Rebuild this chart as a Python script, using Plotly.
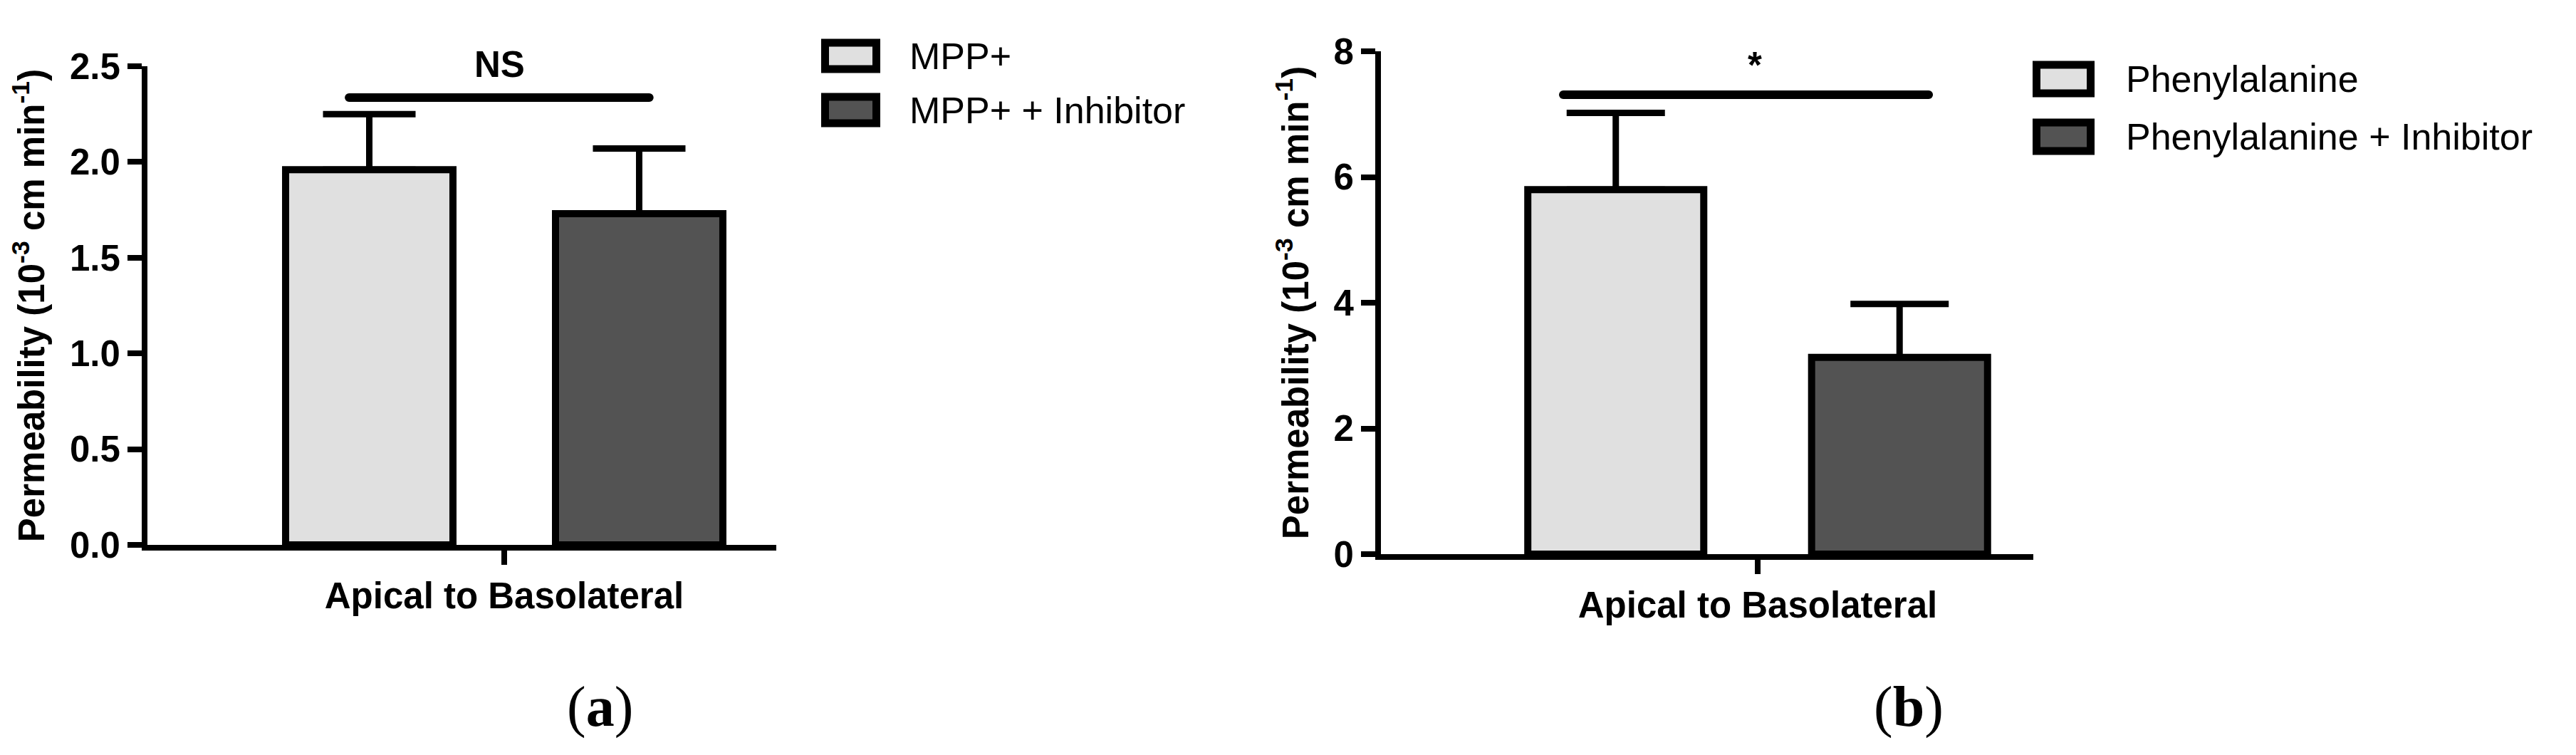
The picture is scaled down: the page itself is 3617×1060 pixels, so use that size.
import plotly.graph_objects as go

W, H = 3617, 1060
OFF = 8  # default body margin of the html page

# data
category = ["Apical to Basolateral"]

mpp_names = ["MPP+", "MPP+ + Inhibitor"]
mpp_means = [1.96, 1.73]
mpp_errors = [0.29, 0.34]
mpp_sig_text = "NS"
mpp_sig_level = 2.336

phe_names = ["Phenylalanine", "Phenylalanine + Inhibitor"]
phe_means = [5.80, 3.13]
phe_errors = [1.22, 0.85]
phe_sig_text = "*"
phe_sig_level = 7.31

fills = ["#e0e0e0", "#535353"]
y_title = "Permeability (10<sup>-3</sup> cm min<sup>-1</sup>)"

SANS = "Liberation Sans, Arial, sans-serif"
SERIF = "Liberation Serif, Times New Roman, serif"


def px(x):
    return (x - OFF) / W


def py(y):
    return 1 - (y - OFF) / H


fig = go.Figure()

# panel (a)
for i in range(2):
    fig.add_trace(go.Bar(
        x=category, y=[mpp_means[i]], name=mpp_names[i],
        marker=dict(color=fills[i], line=dict(color="black", width=10)),
        error_y=dict(type="data", array=[mpp_errors[i]], arrayminus=[0], symmetric=False,
                     color="black", thickness=9, width=65),
        xaxis="x", yaxis="y", showlegend=False,
    ))

# panel (b)
for i in range(2):
    fig.add_trace(go.Bar(
        x=category, y=[phe_means[i]], name=phe_names[i],
        marker=dict(color=fills[i], line=dict(color="black", width=10)),
        error_y=dict(type="data", array=[phe_errors[i]], arrayminus=[0], symmetric=False,
                     color="black", thickness=9, width=69),
        xaxis="x2", yaxis="y2", showlegend=False,
    ))

axis_common = dict(
    automargin=False,
    showline=True, linewidth=8, linecolor="black",
    ticks="outside", ticklen=20, tickwidth=8, tickcolor="black",
    showgrid=False, zeroline=False,
    tickfont=dict(family=SANS, size=51, color="black", weight="bold"),
)
ytitle = dict(text=y_title, font=dict(family=SANS, size=51, color="black", weight="bold"), standoff=22)

fig.update_layout(
    width=W, height=H,
    margin=dict(l=0, r=0, t=0, b=0),
    paper_bgcolor="white", plot_bgcolor="white",
    barmode="group", bargap=0.2, bargroupgap=0.38,
    xaxis=dict(domain=[px(207), px(1090)], range=[-0.5288, 0.4032], type="category",
               anchor="y", **axis_common),
    yaxis=dict(domain=[py(765), py(93)], range=[0, 2.5], dtick=0.5, tickformat=".1f",
               anchor="x", title=ytitle, **axis_common),
    xaxis2=dict(domain=[px(1939), px(2855)], range=[-0.531, 0.3885], type="category",
                anchor="y2", **axis_common),
    yaxis2=dict(domain=[py(778), py(72)], range=[0, 8], dtick=2,
                anchor="x2", title=ytitle, **axis_common),
)

# significance brackets (with rounded ends) and labels
brackets = [("x", "y", -0.23, 0.215, mpp_sig_level), ("x2", "y2", -0.274, 0.241, phe_sig_level)]
for xr, yr, xa, xb, lvl in brackets:
    fig.add_shape(type="line", xref=xr, yref=yr, x0=xa, x1=xb, y0=lvl, y1=lvl,
                  line=dict(color="black", width=12))
    for xe in (xa, xb):
        fig.add_shape(type="circle", xref=xr, yref=yr, xsizemode="pixel", ysizemode="pixel",
                      xanchor=xe, yanchor=lvl, x0=-6, x1=6, y0=-6, y1=6,
                      fillcolor="black", line=dict(width=0))

fig.add_annotation(x=-0.007, y=2.51 / 2.5, xref="x", yref="y domain", text=mpp_sig_text,
                   showarrow=False, xanchor="center", yanchor="middle",
                   font=dict(family=SANS, size=51, color="black", weight="bold"))
fig.add_annotation(x=-0.004, y=7.78 / 8, xref="x2", yref="y2 domain", text=phe_sig_text,
                   showarrow=False, xanchor="center", yanchor="middle",
                   font=dict(family=SANS, size=51, color="black", weight="bold"))

# hand-drawn legends (large swatches like the original)
legends = [
    (mpp_names, 1153, 1236, 1275, [78.5, 154.5], 48),
    (phe_names, 2854, 2941, 2983, [111, 192], 51),
]
for names, x0, x1, tx, centers, hgt in legends:
    for i, name in enumerate(names):
        c = centers[i]
        fig.add_shape(type="rect", xref="paper", yref="paper",
                      x0=px(x0 + 5.5), x1=px(x1 - 5.5),
                      y0=py(c - hgt / 2 + 5.5), y1=py(c + hgt / 2 - 5.5),
                      fillcolor=fills[i], line=dict(color="black", width=11))
        fig.add_annotation(x=px(tx), y=py(c), xref="paper", yref="paper", text=name,
                           xanchor="left", yanchor="middle", showarrow=False,
                           font=dict(family=SANS, size=52, color="black"))

# panel letters
for label, cx in [("a", 842), ("b", 2680)]:
    fig.add_annotation(x=px(cx), y=py(992), xref="paper", yref="paper",
                       text="(<b>%s</b>)" % label, showarrow=False,
                       xanchor="center", yanchor="middle",
                       font=dict(family=SERIF, size=80, color="black"))

fig.write_html("out.html")
